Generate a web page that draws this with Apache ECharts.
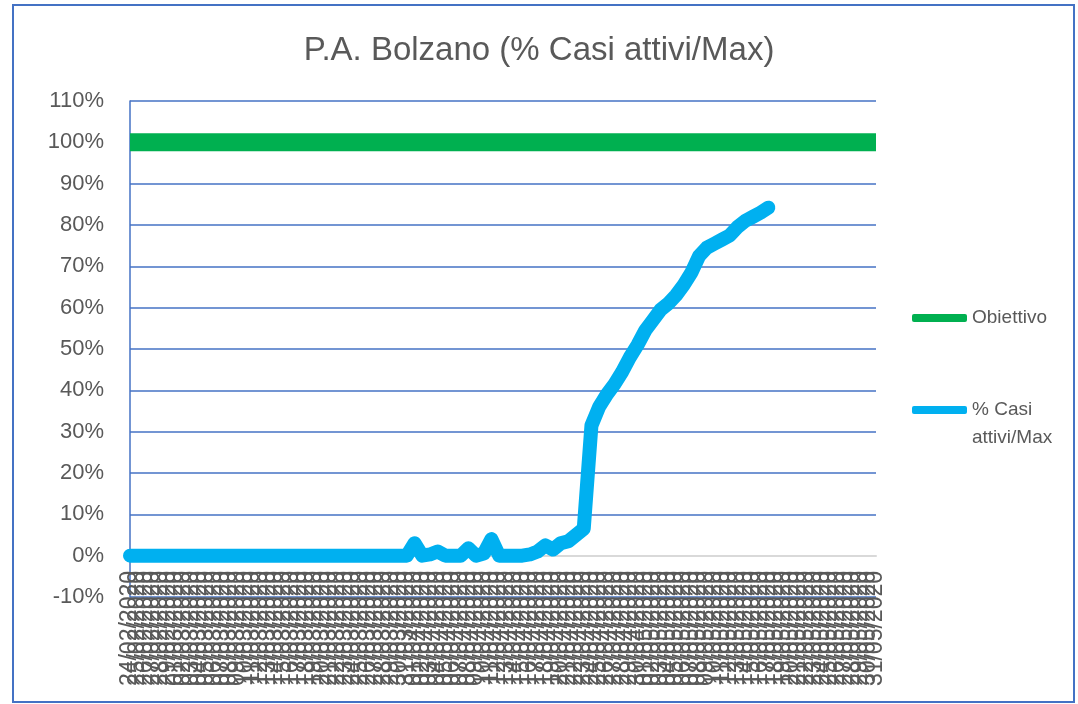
<!DOCTYPE html>
<html>
<head>
<meta charset="utf-8">
<title>P.A. Bolzano</title>
<script src="https://cdn.jsdelivr.net/npm/echarts@6/dist/echarts.min.js"></script>
<style>
  html, body { margin: 0; padding: 0; background: #fff; }
  #frame {
    position: absolute;
    left: 12px; top: 4px;
    width: 1063px; height: 699px;
    border: 2px solid #4472C4;
    box-sizing: border-box;
  }
  #main { position: absolute; left: 0; top: 0; width: 1078px; height: 704px; }
</style>
</head>
<body>
<div id="frame"></div>
<div id="main"></div>
<script>
  // date del periodo 24/02/2020 - 31/05/2020
  const giorni = [
    '24/02/2020', '25/02/2020', '26/02/2020', '27/02/2020', '28/02/2020', '29/02/2020',
    '01/03/2020', '02/03/2020', '03/03/2020', '04/03/2020', '05/03/2020', '06/03/2020', '07/03/2020',
    '08/03/2020', '09/03/2020', '10/03/2020', '11/03/2020', '12/03/2020', '13/03/2020', '14/03/2020',
    '15/03/2020', '16/03/2020', '17/03/2020', '18/03/2020', '19/03/2020', '20/03/2020', '21/03/2020',
    '22/03/2020', '23/03/2020', '24/03/2020', '25/03/2020', '26/03/2020', '27/03/2020', '28/03/2020',
    '29/03/2020', '30/03/2020', '31/03/2020',
    '01/04/2020', '02/04/2020', '03/04/2020', '04/04/2020', '05/04/2020', '06/04/2020', '07/04/2020',
    '08/04/2020', '09/04/2020', '10/04/2020', '11/04/2020', '12/04/2020', '13/04/2020', '14/04/2020',
    '15/04/2020', '16/04/2020', '17/04/2020', '18/04/2020', '19/04/2020', '20/04/2020', '21/04/2020',
    '22/04/2020', '23/04/2020', '24/04/2020', '25/04/2020', '26/04/2020', '27/04/2020', '28/04/2020',
    '29/04/2020', '30/04/2020',
    '01/05/2020', '02/05/2020', '03/05/2020', '04/05/2020', '05/05/2020', '06/05/2020', '07/05/2020',
    '08/05/2020', '09/05/2020', '10/05/2020', '11/05/2020', '12/05/2020', '13/05/2020', '14/05/2020',
    '15/05/2020', '16/05/2020', '17/05/2020', '18/05/2020', '19/05/2020', '20/05/2020', '21/05/2020',
    '22/05/2020', '23/05/2020', '24/05/2020', '25/05/2020', '26/05/2020', '27/05/2020', '28/05/2020',
    '29/05/2020', '30/05/2020', '31/05/2020'
  ];

  // obiettivo: 100% per tutto il periodo
  const obiettivo = [
    100, 100, 100, 100, 100, 100, 100, 100, 100, 100, 100, 100, 100, 100,
    100, 100, 100, 100, 100, 100, 100, 100, 100, 100, 100, 100, 100, 100,
    100, 100, 100, 100, 100, 100, 100, 100, 100, 100, 100, 100, 100, 100,
    100, 100, 100, 100, 100, 100, 100, 100, 100, 100, 100, 100, 100, 100,
    100, 100, 100, 100, 100, 100, 100, 100, 100, 100, 100, 100, 100, 100,
    100, 100, 100, 100, 100, 100, 100, 100, 100, 100, 100, 100, 100, 100,
    100, 100, 100, 100, 100, 100, 100, 100, 100, 100, 100, 100, 100, 100
  ];

  // % casi attivi / max
  const casiAttivi = [
    0, 0, 0, 0, 0, 0, 0, 0, 0, 0, 0, 0, 0, 0,
    0, 0, 0, 0, 0, 0, 0, 0, 0, 0, 0, 0, 0, 0,
    0, 0, 0, 0, 0, 0, 0, 0, 0, 3, 0, 0.3, 1, 0,
    0, 0, 1.8, 0, 0.5, 4, 0, 0, 0, 0, 0.3, 1, 2.5, 1.5,
    3, 3.5, 5, 6.5, 31.5, 36, 39, 41.5, 44.5, 48, 51, 54.5, 57, 59.5,
    61, 63, 65.5, 68.5, 72.5, 74.5, 75.5, 76.5, 77.5, 79.5, 81, 82, 83, 84.2,
    null, null, null, null, null, null, null, null, null, null, null, null, null, null
  ];

  const grigio = '#595959';
  const blu = '#4472C4';

  const myChart = echarts.init(document.getElementById('main'));
  myChart.setOption({
    animation: false,
    textStyle: { fontFamily: 'Liberation Sans' },
    title: {
      text: 'P.A. Bolzano (% Casi attivi/Max)',
      left: 'center',
      top: 34,
      padding: 0,
      textStyle: { fontSize: 33, fontWeight: 'normal', color: grigio, fontFamily: 'Liberation Sans' }
    },
    legend: {
      orient: 'vertical',
      left: 907,
      top: 299,
      itemWidth: 55,
      itemHeight: 8,
      itemGap: 36,
      icon: 'roundRect',
      data: ['Obiettivo', '% Casi attivi/Max'],
      formatter: function (name) {
        // come in Excel: il testo va a capo sotto la prima riga
        if (name === '% Casi attivi/Max') return ' \n% Casi\nattivi/Max';
        return name;
      },
      textStyle: { fontSize: 19, color: grigio, lineHeight: 28 }
    },
    grid: { left: 130, right: 202, top: 101, bottom: 107, outerBoundsMode: 'none' },
    xAxis: {
      type: 'category',
      data: giorni,
      boundaryGap: false,
      axisLine: { onZero: true, lineStyle: { color: '#D9D9D9', width: 2 } },
      axisTick: { show: false },
      axisLabel: {
        interval: 0,
        rotate: 90,
        // le etichette stanno sotto lo 0%, non sotto il -10%
        margin: -26,
        fontSize: 23,
        color: grigio,
        hideOverlap: false
      }
    },
    yAxis: {
      type: 'value',
      min: -10,
      max: 110,
      interval: 10,
      axisLine: { show: true, lineStyle: { color: blu, width: 1.5 } },
      axisTick: { show: false },
      axisLabel: { formatter: '{value}%', fontSize: 22, color: grigio, margin: 26 },
      splitLine: { lineStyle: { color: blu, width: 1.5 } }
    },
    series: [
      {
        name: 'Obiettivo',
        type: 'line',
        data: obiettivo,
        showSymbol: false,
        color: '#00B050',
        lineStyle: { width: 18, cap: 'butt', join: 'round' }
      },
      {
        name: '% Casi attivi/Max',
        type: 'line',
        data: casiAttivi,
        showSymbol: false,
        color: '#00B0F0',
        lineStyle: { width: 14, cap: 'round', join: 'round' }
      }
    ]
  });
</script>
</body>
</html>
